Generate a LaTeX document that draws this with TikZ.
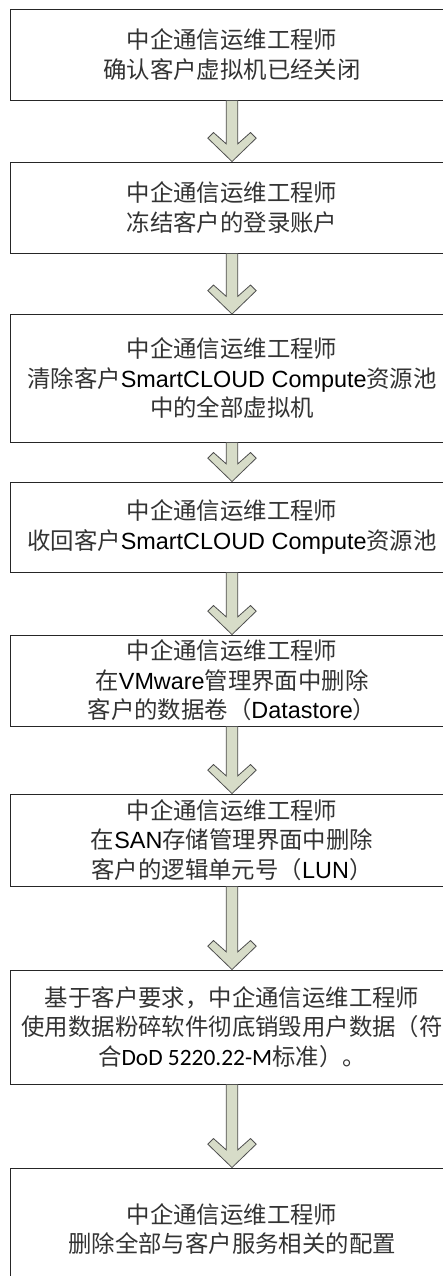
\documentclass[tikz,border=0pt]{standalone}
\usepackage{fontspec}
\setmainfont{Liberation Sans}
\newfontfamily\cjk{Noto Sans CJK SC}
\newfontfamily\carlitofont{Carlito}
\usetikzlibrary{calc}
\definecolor{arrowfill}{RGB}{215,220,200}
\definecolor{arrowline}{RGB}{80,80,80}
\newcommand{\zh}[1]{{\cjk\color{black!80}#1}}
\tikzset{
  stepbox/.style={draw=black!85, line width=0.9pt, fill=white, minimum width=444pt,
    inner sep=0pt, align=center, font=\fontsize{23.4}{29.5}\selectfont},
  flowarrow/.style={fill=arrowfill, draw=arrowline, line width=0.8pt, line join=miter}
}
\newcommand{\chev}[2]{%
  \path[flowarrow] let \p1=(#1.south), \p2=(#2.north) in
    (\x2-5.8pt,\y1) -- (\x2-5.8pt,\y2+17.7pt) -- (\x2-18.5pt,\y2+29pt) -- (\x2-24.2pt,\y2+23.4pt)
    -- (\x2,\y2) -- (\x2+24.2pt,\y2+23.4pt) -- (\x2+18.5pt,\y2+29pt) -- (\x2+5.8pt,\y2+17.7pt)
    -- (\x2+5.8pt,\y1) -- cycle;}
\begin{document}
\begin{tikzpicture}[x=1pt,y=1pt]
\path[use as bounding box, clip] (0,0) rectangle (443,-1276);
\fill[white] (0,0) rectangle (443,-1276);
\node[stepbox, minimum height=91pt] (b1) at (232,-54.5)
  {\zh{中企通信运维工程师}\\ \zh{确认客户虚拟机已经关闭}};
\node[stepbox, minimum height=91pt] (b2) at (232,-207.5)
  {\zh{中企通信运维工程师}\\ \zh{冻结客户的登录账户}};
\node[stepbox, minimum height=127.5pt] (b3) at (232,-378.25)
  {\zh{中企通信运维工程师}\\ \zh{清除客户}SmartCLOUD Compute\zh{资源池}\\ \zh{中的全部虚拟机}};
\node[stepbox, minimum height=90pt] (b4) at (232,-527)
  {\zh{中企通信运维工程师}\\ \zh{收回客户}SmartCLOUD Compute\zh{资源池}};
\node[stepbox, minimum height=91pt] (b5) at (232,-680.5)
  {\zh{中企通信运维工程师}\\ \zh{在}VMware\zh{管理界面中删除}\\ \zh{客户的数据卷（}Datastore\zh{）}};
\node[stepbox, minimum height=92pt] (b6) at (232,-840)
  {\zh{中企通信运维工程师}\\ \zh{在}SAN\zh{存储管理界面中删除}\\ \zh{客户的逻辑单元号（}LUN\zh{）}};
\node[stepbox, minimum height=114pt] (b7) at (232,-1027)
  {\zh{基于客户要求，中企通信运维工程师}\\ \zh{使用数据粉碎软件彻底销毁用户数据（符}\\ \zh{合}{\carlitofont DoD 5220.22-M}\zh{标准）。}};
\node[stepbox, minimum height=122pt] (b8) at (232,-1229)
  {\zh{中企通信运维工程师}\\ \zh{删除全部与客户服务相关的配置}};
\chev{b1}{b2}
\chev{b2}{b3}
\chev{b3}{b4}
\chev{b4}{b5}
\chev{b5}{b6}
\chev{b6}{b7}
\chev{b7}{b8}
\end{tikzpicture}
\end{document}
